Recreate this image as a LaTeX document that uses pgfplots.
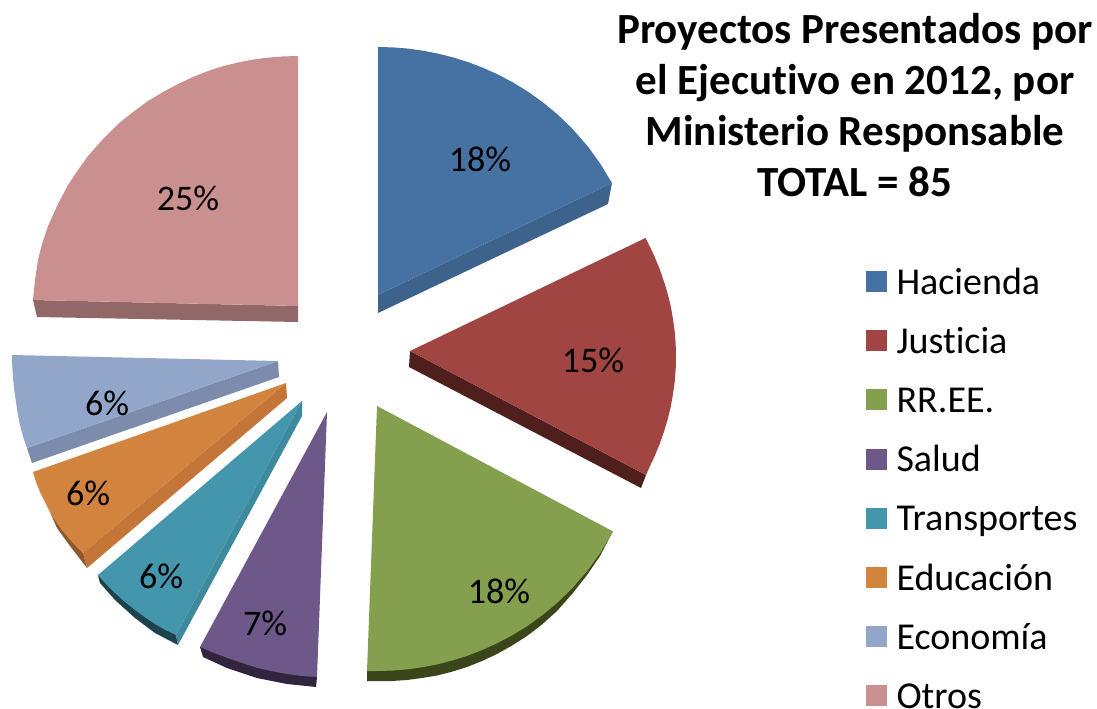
\documentclass[border=0pt]{standalone}
\usepackage{pgfplots}
\pgfplotsset{compat=1.18}
\usepackage{fontspec}
\setmainfont[Ligatures=NoCommon]{Carlito}
\definecolor{cA}{HTML}{4672A3}\definecolor{cAs}{HTML}{3D628C}
\definecolor{cB}{HTML}{A14543}\definecolor{cBs}{HTML}{4F1F1D}
\definecolor{cC}{HTML}{84A04F}\definecolor{cCs}{HTML}{3A4519}
\definecolor{cD}{HTML}{6E5789}\definecolor{cDs}{HTML}{30243F}
\definecolor{cE}{HTML}{4496AC}\definecolor{cEs}{HTML}{3D8A9F}\definecolor{cEd}{HTML}{1C424D}
\definecolor{cF}{HTML}{D2843F}\definecolor{cFs}{HTML}{C47638}
\definecolor{cG}{HTML}{92A6C9}\definecolor{cGs}{HTML}{7D8CAC}
\definecolor{cH}{HTML}{CA9090}\definecolor{cHs}{HTML}{926767}
\begin{document}
\begin{tikzpicture}
\begin{axis}[
  scale only axis, width=1097pt, height=709pt,
  xmin=0, xmax=1097, ymin=0, ymax=709, y dir=reverse,
  hide axis, clip=false,
  legend image code/.code={\fill[#1] (0pt,-7pt) rectangle (21pt,14pt);},
  legend cell align=left,
  legend style={at={(axis cs:866,268)},anchor=north west,draw=none,fill=none,inner sep=0pt,outer sep=0pt,
    font=\fontsize{38}{38}\selectfont,row sep=25.2pt,column sep=9.5pt,
    nodes={inner sep=0pt,outer sep=0pt,text height=26pt,text depth=8pt}},
]
% side faces first
\addplot[fill=cAs,draw=none,forget plot] coordinates {(378,295)(612,183)(608,204)(378,313)} -- cycle;
\addplot[fill=cBs,draw=none,forget plot] coordinates {(410,351)(646,475)(641,488)(409,367)} -- cycle;
\addplot[fill=cCs,draw=none,forget plot] coordinates {(613,531)(600,556)(587,575)(572,594)(557,611)(542,624.5)(527,636)(512,645.5)(497,654)(482,661)(467,667)(452,671.7)(437,675.5)(422,678)(407,680)(392,681)(377,681)(367,681)(367,671)} -- cycle;
\addplot[fill=cDs,draw=none,forget plot] coordinates {(200,647)(203,657)(227,668)(257,678)(287,684)(316,687)(317,677)} -- cycle;
\addplot[fill=cEd,draw=none,forget plot] coordinates {(98,575)(100,583)(115,600)(135,618)(155,633)(178,645)(176,635)} -- cycle;
\addplot[fill=cEs,draw=none,forget plot] coordinates {(302,401)(302,416)(178,645)(176,635)} -- cycle;
\addplot[fill=cFs,draw=none,forget plot] coordinates {(286,383)(287,398)(87,568)(83,553)} -- cycle;
\addplot[fill=cFs!75!black,draw=none,forget plot] coordinates {(50,512)(62,530)(83,553)(87,568)(70,546)(57,528)} -- cycle;
\addplot[fill=cGs,draw=none,forget plot] coordinates {(278,361)(279,377)(32,463)(27,448)} -- cycle;
\addplot[fill=cHs,draw=none,forget plot] coordinates {(33,300)(37,317)(298,322)(298,306)} -- cycle;
% top faces, in legend order
\addplot[fill=cA,draw=none] coordinates {(378,295)(378,47)(393,47.4)(408,48.6)(423,50.7)(438,53.6)(453,57.4)(468,62.1)(483,67.8)(498,74.5)(513,82.5)(528,91.7)(543,102.4)(558,114.8)(573,129.4)(588,146.7)(600,163.3)(612,183)} -- cycle;
\addlegendentry{Hacienda}
\addplot[fill=cB,draw=none] coordinates {(410,351)(645.5,238)(650.3,247.5)(654.5,256.5)(659.7,269)(664,281.5)(667.8,294)(670.8,306.5)(673,319)(674.7,331.5)(675.7,344)(676,356.5)(675.7,369)(674.7,381.5)(673,394)(670.8,406.5)(667.8,419)(664,431.5)(659.7,444)(654.5,456.5)(650.3,465.5)(646,475)} -- cycle;
\addlegendentry{Justicia}
\addplot[fill=cC,draw=none] coordinates {(377,406)(613,531.4)(600,553.4)(587,571.3)(572,588.5)(557,603)(542,615.5)(527,626.2)(512,635.4)(497,643.3)(482,650.1)(467,655.9)(452,660.6)(437,664.4)(422,667.3)(407,669.4)(392,670.6)(377,671)(367,671)} -- cycle;
\addlegendentry{RR.EE.}
\addplot[fill=cD,draw=none] coordinates {(327,412)(317,677)(302,676)(287,674)(272,671.2)(257,667.8)(242,663)(227,657.8)(213,652.5)(200,647)} -- cycle;
\addlegendentry{Salud}
\addplot[fill=cE,draw=none] coordinates {(302,401)(176,635)(165,629.8)(155,624)(145,617.3)(135,610)(125,602)(115,593)(106,584)(98,575)} -- cycle;
\addlegendentry{Transportes}
\addplot[fill=cF,draw=none] coordinates {(286,383)(83,553)(72,542)(62,530)(55.5,521)(50,512)(45,502)(40,492)(36,482)(33,472)} -- cycle;
\addlegendentry{Educación}
\addplot[fill=cG,draw=none] coordinates {(278,361)(27,448)(23,436.5)(20,425)(17.7,413.5)(16,402)(14.2,390)(13,378)(12.3,366.5)(12,355)} -- cycle;
\addlegendentry{Economía}
\addplot[fill=cH,draw=none] coordinates {(298,56)(283,56.4)(268,57.6)(253,59.6)(238,62.5)(223,66.2)(208,71)(193,77)(178,84)(163,92)(148,101)(133,112)(118,124)(103,139)(88,156)(78,170)(68,185)(58,204)(48,226)(42,244)(38,260)(35,280)(33,300)(298,306)} -- cycle;
\addlegendentry{Otros}
% data labels
\begin{scope}[every node/.style={font=\fontsize{36}{36}\selectfont,inner sep=0pt,anchor=center}]
\node at (axis cs:480,159) {18\%};
\node at (axis cs:593,360) {15\%};
\node at (axis cs:499,591) {18\%};
\node at (axis cs:265,623) {7\%};
\node at (axis cs:161,576) {6\%};
\node at (axis cs:88,493) {6\%};
\node at (axis cs:107,403) {6\%};
\node at (axis cs:188,198) {25\%};
\end{scope}
\node[font=\fontsize{43}{51}\selectfont\bfseries,align=center,anchor=north,inner sep=0pt] at (axis cs:855,13)
 {Proyectos Presentados por\\el Ejecutivo en 2012, por\\Ministerio Responsable\\TOTAL = 85};
\end{axis}
\pgfresetboundingbox
\path (0,0) rectangle (1097pt,709pt);
\end{tikzpicture}
\end{document}
